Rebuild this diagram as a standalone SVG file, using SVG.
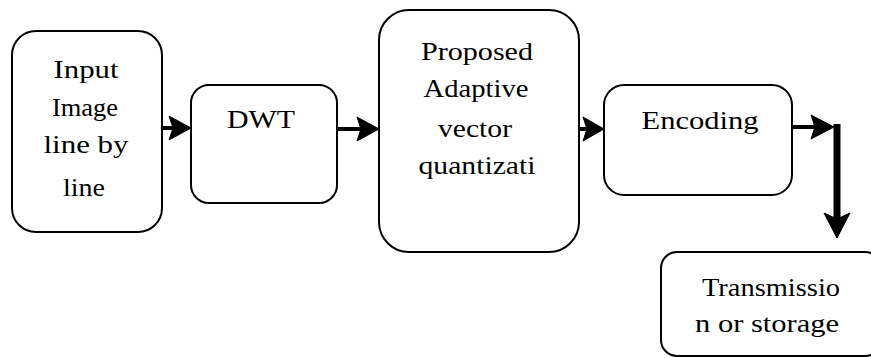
<svg xmlns="http://www.w3.org/2000/svg" width="871" height="358" viewBox="0 0 871 358">
<style>
.box{fill:#fff;stroke:#000;stroke-width:2}
.t{font-family:'Liberation Serif','Times New Roman',serif;font-size:25px;fill:#000;text-anchor:middle}
.c{stroke:#000;stroke-width:4;fill:none}
.head{fill:#000;stroke:#000;stroke-width:1}
</style>
<rect width="871" height="358" fill="#fff"/>
<g id="connectors">
<line class="c" x1="162" y1="128" x2="176" y2="128"/>
<polygon class="head" points="169,116 191,128 169,140 173,128"/>
<line class="c" x1="337" y1="129" x2="362" y2="129"/>
<polygon class="head" points="357,117 379,129 357,141 361,129"/>
<line class="c" x1="579" y1="129" x2="590" y2="129"/>
<polygon class="head" points="583,117 604,129 583,141 587,129"/>
<line class="c" x1="792" y1="127" x2="816" y2="127"/>
<polygon class="head" points="811,115 834,127 811,139 815,127"/>
<line x1="837" y1="124" x2="837" y2="222" stroke="#000" stroke-width="7"/>
<polygon class="head" points="824,213 837,238 850,213 837,219"/>
</g>
<g id="input">
<rect class="box" x="12" y="31" width="150" height="201" rx="24"/>
<text class="t" x="86" y="78" textLength="65" lengthAdjust="spacingAndGlyphs">Input</text>
<text class="t" x="85" y="116" textLength="66" lengthAdjust="spacingAndGlyphs">Image</text>
<text class="t" x="86" y="153" textLength="85" lengthAdjust="spacingAndGlyphs">line by</text>
<text class="t" x="84" y="196" textLength="42" lengthAdjust="spacingAndGlyphs">line</text>
</g>
<g id="dwt">
<rect class="box" x="191" y="85" width="146" height="118" rx="18"/>
<text class="t" x="261" y="128" textLength="68" lengthAdjust="spacingAndGlyphs">DWT</text>
</g>
<g id="proposed">
<rect class="box" x="379" y="10" width="200" height="242" rx="30"/>
<text class="t" x="477" y="60" textLength="112" lengthAdjust="spacingAndGlyphs">Proposed</text>
<text class="t" x="476" y="97" textLength="105" lengthAdjust="spacingAndGlyphs">Adaptive</text>
<text class="t" x="475" y="137" textLength="74" lengthAdjust="spacingAndGlyphs">vector</text>
<text class="t" x="477" y="174" textLength="117" lengthAdjust="spacingAndGlyphs">quantizati</text>
</g>
<g id="encoding">
<rect class="box" x="604" y="85" width="188" height="110" rx="20"/>
<text class="t" x="700" y="129" textLength="117" lengthAdjust="spacingAndGlyphs">Encoding</text>
</g>
<g id="transmission">
<rect class="box" x="661" y="252" width="220" height="104" rx="16"/>
<text class="t" x="771" y="296" textLength="138" lengthAdjust="spacingAndGlyphs">Transmissio</text>
<text class="t" x="767" y="332" textLength="144" lengthAdjust="spacingAndGlyphs">n or storage</text>
</g>
</svg>
